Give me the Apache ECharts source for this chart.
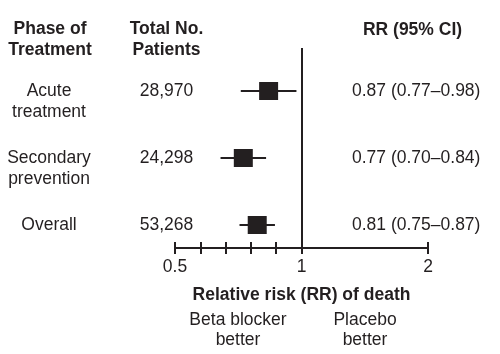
<!DOCTYPE html>
<html><head><meta charset="utf-8">
<script src="https://cdn.jsdelivr.net/npm/echarts@6/dist/echarts.min.js"></script>
<style>html,body{margin:0;padding:0;background:#fff}#c{width:500px;height:354px}</style>
</head><body><div id="c"></div>
<script>
// ---- data ----
const phases = ['Acute\ntreatment', 'Secondary\nprevention', 'Overall'];
const patients = ['28,970', '24,298', '53,268'];
const rrText = ['0.87 (0.77\u20130.98)', '0.77 (0.70\u20130.84)', '0.81 (0.75\u20130.87)'];
const rrPoint = [0.87, 0.77, 0.825];
const ciLow = [0.76, 0.68, 0.755];
const ciHigh = [0.98, 0.86, 0.895];
const tickValues = [0.5, 0.6, 0.7, 0.8, 0.9, 1, 2];
const tickLabels = [0.5, 1, 2];
const refValue = 1;
const headers = ['Phase of\nTreatment', 'Total No.\nPatients', 'RR (95% CI)'];
const xTitle = 'Relative risk (RR) of death';
const sideNotes = ['Beta blocker\nbetter', 'Placebo\nbetter'];

// ---- scale: linear 0.5..1, compressed 1..2 ----
const fwd = v => v <= 1 ? v : 1 + (v - 1) / 2;
const inv = x => x <= 1 ? x : 1 + (x - 1) * 2;
const fmtNum = x => { const v = Math.round(inv(x) * 100) / 100; return String(v); };

const FONT = '"Liberation Sans", Arial, Helvetica, sans-serif';
const COL = '#231f20';
const FS = 17.5;
const rows = phases.map((_, i) => i);

const padLabel = s => s.indexOf('\n') >= 0 ? ' \n' + s : s;

const chart = echarts.init(document.getElementById('c'));
const commonX = {
  type: 'value', min: fwd(0.5), max: fwd(2), position: 'bottom',
  splitLine: { show: false }
};
chart.setOption({
  animation: false,
  backgroundColor: '#fff',
  textStyle: { fontFamily: FONT, color: COL },
  grid: { left: 175, right: 72, top: 48, bottom: 106, containLabel: false },
  xAxis: [
    Object.assign({}, commonX, {
      axisLine: { show: true, onZero: false, lineStyle: { color: COL, width: 2 } },
      axisTick: { show: true, inside: false, length: 6, lineStyle: { color: COL, width: 2 },
                  customValues: tickValues.map(fwd) },
      axisLabel: { show: true, margin: 10, fontSize: FS, color: COL, fontFamily: FONT,
                   customValues: tickLabels.map(fwd), formatter: fmtNum },
      name: xTitle, nameLocation: 'middle', nameGap: 38,
      nameTextStyle: { fontSize: FS, fontWeight: 'bold', color: COL, fontFamily: FONT }
    }),
    Object.assign({}, commonX, {
      axisLine: { show: false, onZero: false },
      axisTick: { show: true, inside: true, length: 6, lineStyle: { color: COL, width: 2 },
                  customValues: tickValues.map(fwd) },
      axisLabel: { show: false }
    })
  ],
  yAxis: [
    { type: 'value', inverse: true, min: -0.642, max: 2.343, position: 'left',
      axisLine: { show: false, onZero: false }, axisTick: { show: false }, splitLine: { show: false },
      axisLabel: { show: true, customValues: rows, margin: 126, align: 'center', verticalAlign: 'middle',
                   fontSize: FS, lineHeight: 21, color: COL, fontFamily: FONT,
                   formatter: v => padLabel(phases[Math.round(v)]) } },
    { type: 'value', inverse: true, min: -0.642, max: 2.343, position: 'left',
      axisLine: { show: false, onZero: false }, axisTick: { show: false }, splitLine: { show: false },
      axisLabel: { show: true, customValues: rows, margin: 8.5, align: 'center', verticalAlign: 'middle',
                   fontSize: FS, color: COL, fontFamily: FONT,
                   formatter: v => patients[Math.round(v)] } },
    { type: 'value', inverse: true, min: -0.642, max: 2.343, position: 'right', offset: -76,
      axisLine: { show: false, onZero: false }, axisTick: { show: false }, splitLine: { show: false },
      axisLabel: { show: true, customValues: rows, margin: 0, align: 'left', verticalAlign: 'middle',
                   fontSize: FS, color: COL, fontFamily: FONT,
                   formatter: v => rrText[Math.round(v)] } }
  ],
  graphic: [
    { type: 'text', x: 50, y: 39.5, style: { text: headers[0], font: 'bold ' + FS + 'px ' + FONT, fill: COL,
      textAlign: 'center', textVerticalAlign: 'middle', lineHeight: 21 } },
    { type: 'text', x: 166.5, y: 39.5, style: { text: headers[1], font: 'bold ' + FS + 'px ' + FONT, fill: COL,
      textAlign: 'center', textVerticalAlign: 'middle', lineHeight: 21 } },
    { type: 'text', x: 412.5, y: 30, style: { text: headers[2], font: 'bold ' + FS + 'px ' + FONT, fill: COL,
      textAlign: 'center', textVerticalAlign: 'middle' } },
    { type: 'text', x: 238, y: 330, style: { text: sideNotes[0], font: FS + 'px ' + FONT, fill: COL,
      textAlign: 'center', textVerticalAlign: 'middle', lineHeight: 20 } },
    { type: 'text', x: 365, y: 330, style: { text: sideNotes[1], font: FS + 'px ' + FONT, fill: COL,
      textAlign: 'center', textVerticalAlign: 'middle', lineHeight: 20 } }
  ],
  series: [
    {
      type: 'custom', xAxisIndex: 0, yAxisIndex: 0,
      data: rows.map(i => [fwd(ciLow[i]), fwd(ciHigh[i]), i]),
      renderItem: (params, api) => {
        const a = api.coord([api.value(0), api.value(2)]);
        const b = api.coord([api.value(1), api.value(2)]);
        return { type: 'line', shape: { x1: a[0], y1: a[1], x2: b[0], y2: b[1] },
                 style: { stroke: COL, lineWidth: 2 } };
      },
      z: 2, silent: true
    },
    {
      type: 'scatter', xAxisIndex: 0, yAxisIndex: 0,
      data: rows.map(i => [fwd(rrPoint[i]), i]),
      symbol: 'rect', symbolSize: [19, 18],
      itemStyle: { color: COL, opacity: 1 },
      z: 3, silent: true,
      markLine: {
        silent: true, symbol: 'none', label: { show: false },
        lineStyle: { color: COL, width: 2, type: 'solid' },
        data: [{ xAxis: fwd(refValue) }]
      }
    }
  ]
});
</script>
</body></html>
